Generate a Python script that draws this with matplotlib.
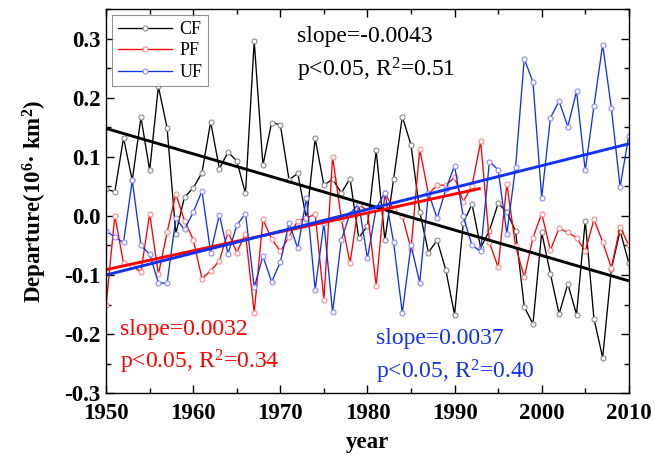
import numpy as np
import matplotlib
matplotlib.use("Agg")
import matplotlib.pyplot as plt
from matplotlib.ticker import MultipleLocator

plt.rcParams['font.family'] = ['Liberation Serif', 'DejaVu Serif']
plt.rcParams['mathtext.fontset'] = 'custom'
plt.rcParams['mathtext.rm'] = 'Liberation Serif'
plt.rcParams['mathtext.it'] = 'Liberation Serif:italic'
plt.rcParams['mathtext.bf'] = 'Liberation Serif:bold'

years = list(range(1950, 2011))

cf = [0.045, 0.041, 0.132, 0.060, 0.167, 0.077, 0.219, 0.149, -0.030, 0.032,
      0.047, 0.073, 0.159, 0.080, 0.108, 0.093, 0.038, 0.296, 0.086, 0.158,
      0.154, 0.061, 0.072, -0.006, 0.131, 0.052, 0.062, 0.039, 0.063, -0.037,
      -0.017, 0.111, -0.041, 0.062, 0.168, 0.120, 0.007, -0.062, -0.041, -0.092,
      -0.167, -0.012, 0.020, -0.054, -0.025, 0.021, 0.007, -0.026, -0.154, -0.183,
      -0.028, -0.098, -0.166, -0.115, -0.167, -0.008, -0.174, -0.240, -0.090, -0.025,
      -0.080]

pf = [-0.151, 0.000, -0.080, -0.085, -0.095, 0.004, -0.099, -0.028, 0.037, -0.008,
      -0.040, -0.106, -0.093, -0.076, -0.027, -0.062, -0.030, -0.164, -0.006, -0.039,
      -0.060, -0.035, -0.008, -0.004, 0.003, -0.142, 0.100, -0.005, -0.080, 0.020,
      0.008, -0.118, 0.039, 0.011, 0.000, -0.056, 0.113, 0.037, 0.052, 0.052,
      0.065, 0.024, 0.051, 0.126, -0.045, -0.087, 0.054, -0.051, -0.104, -0.037,
      0.004, -0.058, -0.021, -0.028, -0.037, -0.060, -0.006, -0.044, -0.088, -0.018,
      -0.050]

uf = [-0.025, -0.036, -0.045, 0.060, -0.050, -0.065, -0.113, -0.114, -0.004, -0.023,
      0.006, 0.042, -0.062, 0.002, -0.064, -0.016, 0.004, -0.121, -0.068, -0.112,
      -0.078, -0.012, -0.055, 0.031, -0.125, -0.012, -0.163, -0.041, 0.004, 0.020,
      -0.072, 0.013, 0.039, -0.045, -0.164, -0.050, -0.113, 0.039, -0.004, 0.045,
      0.085, -0.001, -0.050, -0.060, 0.092, 0.078, -0.030, 0.082, 0.266, 0.226,
      0.031, 0.166, 0.194, 0.151, 0.211, 0.077, 0.186, 0.290, 0.182, 0.049,
      0.136]

series_names = ["CF", "PF", "UF"]
# trend lines: slope, value at start year, start year, end year
trend_slopes = [-0.0043, 0.0032, 0.0037]
trend_start_values = [0.148, -0.091, -0.100]
trend_start_years = [1950, 1950, 1950]
trend_end_years = [2010, 1993, 2010]
r2_values = ["0.51", "0.34", "0.40"]

line_colors = ["black", "#ff0000", "#1133ee"]
marker_edges = ["#8a8a8a", "#ff8a8a", "#8a8aff"]

fig = plt.figure(figsize=(6.55, 4.55), dpi=100)
ax = fig.add_axes([0.162, 0.136, 0.798, 0.844])

data = [cf, pf, uf]
for name, vals, lc, me in zip(series_names, data, line_colors, marker_edges):
    ax.plot(years, vals, color=lc, lw=0.95, marker='o', ms=3.6,
            mfc='white', mec=me, mew=0.8, label=name)

for s, v0, y0, y1, lc in zip(trend_slopes, trend_start_values, trend_start_years,
                             trend_end_years, line_colors):
    xs = np.array([y0, y1])
    ax.plot(xs, v0 + s * (xs - y0), color=lc, lw=2.1, solid_capstyle='butt')

ax.set_xlim(1950, 2010)
ax.set_ylim(-0.3, 0.35)
ax.xaxis.set_major_locator(MultipleLocator(10))
ax.xaxis.set_minor_locator(MultipleLocator(5))
ax.yaxis.set_major_locator(MultipleLocator(0.1))
ax.yaxis.set_minor_locator(MultipleLocator(0.05))
ax.set_yticks([-0.3, -0.2, -0.1, 0.0, 0.1, 0.2, 0.3])
ax.set_yticklabels(["-0.3", "-0.2", "-0.1", "0.0", "0.1", "0.2", "0.3"])
ax.tick_params(which='both', direction='in', top=True, right=True, width=1)
ax.tick_params(which='major', length=6, labelsize=16.5)
ax.tick_params(which='minor', length=3.5)
ax.tick_params(axis='x', which='major', pad=7)
ax.tick_params(axis='y', which='major', pad=4)
for lab in ax.get_xticklabels() + ax.get_yticklabels():
    lab.set_fontweight('bold')
for sp in ax.spines.values():
    sp.set_linewidth(1.0)

ax.set_xlabel("year", fontsize=16.5, fontweight='bold', labelpad=6)
ax.set_ylabel(r"Departure(10$^{\mathbf{6}}$· km$^{\mathbf{2}}$)", fontsize=16.5,
              fontweight='bold', labelpad=11)

leg = ax.legend(loc='upper left', fontsize=13, frameon=True, fancybox=False,
                edgecolor='#777777', handlelength=3.0, labelspacing=0.25,
                borderpad=0.3, handletextpad=0.4, borderaxespad=0.35)
leg.get_frame().set_linewidth(0.8)

fs = 17
ax.text(1971.9, 0.303, "slope=%s" % trend_slopes[0], color=line_colors[0],
        fontsize=fs, va='center', ha='left')
ax.text(1971.9, 0.247, r"p<0.05, R$^2$=%s" % r2_values[0], color=line_colors[0],
        fontsize=fs, va='center', ha='left')
ax.text(1951.6, -0.192, "slope=%s" % trend_slopes[1], color=line_colors[1],
        fontsize=fs, va='center', ha='left')
ax.text(1951.6, -0.247, r"p<0.05, R$^2$=%s" % r2_values[1], color=line_colors[1],
        fontsize=fs, va='center', ha='left')
ax.text(1981.0, -0.208, "slope=%s" % trend_slopes[2], color=line_colors[2],
        fontsize=fs, va='center', ha='left')
ax.text(1981.0, -0.264, r"p<0.05, R$^2$=%s" % r2_values[2], color=line_colors[2],
        fontsize=fs, va='center', ha='left')

fig.savefig("out.png", dpi=100)
